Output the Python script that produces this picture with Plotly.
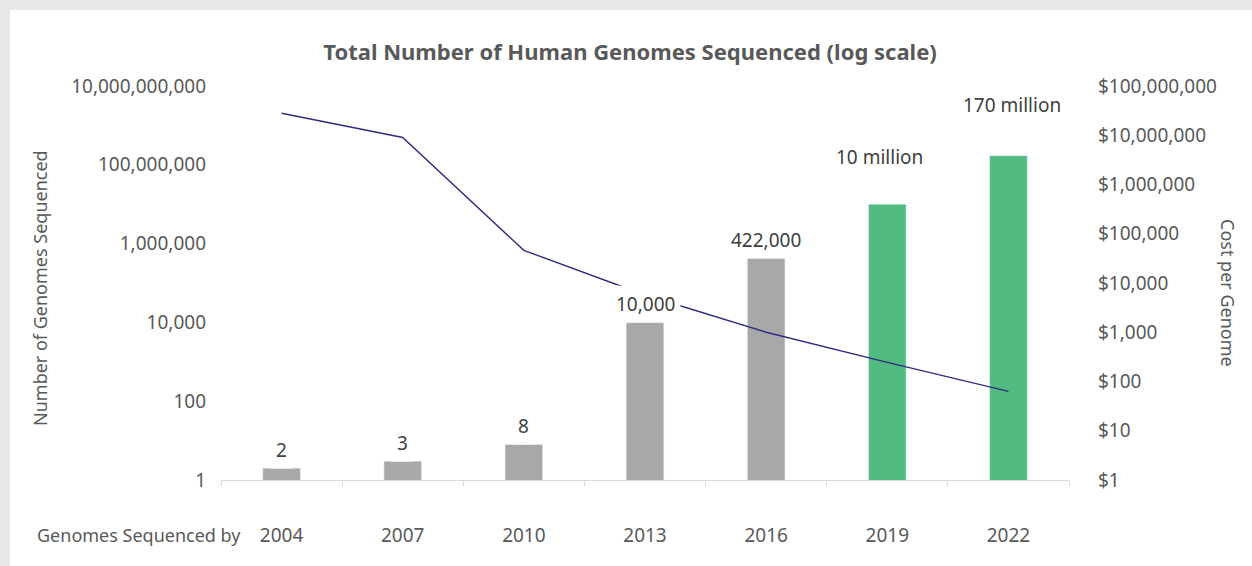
import math
import plotly.graph_objects as go

years = ["2004", "2007", "2010", "2013", "2016", "2019", "2022"]
genomes = [2, 3, 8, 10000, 422000, 10000000, 170000000]
genome_labels = ["2", "3", "8", "10,000", "422,000", "10 million", "170 million"]
cost = [28000000, 9000000, 46000, 5700, 1000, 245, 63]

left_tickvals = [1, 100, 10000, 1000000, 100000000, 10000000000]
left_ticktext = ["1", "100", "10,000", "1,000,000", "100,000,000", "10,000,000,000"]
right_tickvals = [1, 10, 100, 1000, 10000, 100000, 1000000, 10000000, 100000000]
right_ticktext = ["$1", "$10", "$100", "$1,000", "$10,000", "$100,000", "$1,000,000", "$10,000,000", "$100,000,000"]

# styling (not data)
bar_colors = ["#a8a8a8"] * 5 + ["#52bc80"] * 2
label_shift = [18, 18, 18, 18, 18, 47, 51]
label_xshift = [0, 0, 0, 0, 0, -8, 4]

FONT = "Noto Sans"
TXT = "#595959"
NUM = 19
LAB = 18

fig = go.Figure()
fig.add_trace(go.Bar(x=years, y=genomes, marker_color=bar_colors, width=0.31,
                     yaxis="y", hoverinfo="skip"))
fig.add_trace(go.Scatter(x=years, y=cost, mode="lines", yaxis="y2",
                         line=dict(color="#2e2e80", width=1.4), hoverinfo="skip"))

for i, (v, lab) in enumerate(zip(genomes, genome_labels)):
    fig.add_annotation(x=i, y=math.log10(v), xref="x", yref="y",
                       text=lab, showarrow=False, yshift=label_shift[i], xshift=label_xshift[i],
                       font=dict(family=FONT, size=NUM, color="#404040"),
                       bgcolor="white", borderpad=5)

# card background
fig.add_shape(type="rect", xref="paper", yref="paper",
              x0=(10 - 221) / 848, x1=(1262 - 221) / 848,
              y0=(480 - 580) / 394, y1=(480 - 10) / 394,
              fillcolor="white", line=dict(width=0), layer="below")

fig.add_annotation(xref="paper", yref="paper", x=(35 - 221) / 848, y=(480 - 535) / 394,
                   xanchor="left", yanchor="middle", text="Genomes Sequenced by",
                   showarrow=False, font=dict(family=FONT, size=LAB, color=TXT))
fig.add_annotation(xref="paper", yref="paper", x=(40 - 221) / 848, y=(480 - 288) / 394,
                   xanchor="center", yanchor="middle", text="Number of Genomes Sequenced",
                   textangle=-90, showarrow=False, font=dict(family=FONT, size=LAB, color=TXT))
fig.add_annotation(xref="paper", yref="paper", x=(1228 - 221) / 848, y=(480 - 293) / 394,
                   xanchor="center", yanchor="middle", text="Cost per Genome",
                   textangle=90, showarrow=False, font=dict(family=FONT, size=LAB, color=TXT))

fig.update_layout(
    width=1252, height=566,
    margin=dict(l=221, r=183, t=86, b=86),
    paper_bgcolor="#e7e8ea", plot_bgcolor="rgba(0,0,0,0)",
    showlegend=False,
    title=dict(text="<b>Total Number of Human Genomes Sequenced (log scale)</b>",
               x=630 / 1252, xanchor="center", y=1 - 52 / 566, yanchor="middle",
               font=dict(family=FONT, size=22, color=TXT)),
    xaxis=dict(type="category", showline=True, linecolor="#d9d9d9", linewidth=1,
               ticks="outside", tickson="boundaries", ticklen=5, tickcolor="#d9d9d9",
               showgrid=False, ticklabelstandoff=38, range=[-0.5, 6.5],
               tickfont=dict(family=FONT, size=NUM, color=TXT)),
    yaxis=dict(type="log", range=[0, 10], tickvals=left_tickvals, ticktext=left_ticktext,
               showgrid=False, zeroline=False, showline=False, ticks="",
               ticklabelstandoff=14,
               tickfont=dict(family=FONT, size=NUM, color=TXT)),
    yaxis2=dict(type="log", range=[0, 8], overlaying="y", side="right",
                tickvals=right_tickvals, ticktext=right_ticktext,
                showgrid=False, zeroline=False, showline=False, ticks="",
                ticklabelstandoff=28,
                tickfont=dict(family=FONT, size=NUM, color=TXT)),
)

fig.write_html("out.html", config={"displayModeBar": False},
               post_script="document.body.style.margin='0';document.body.style.padding='0';")
